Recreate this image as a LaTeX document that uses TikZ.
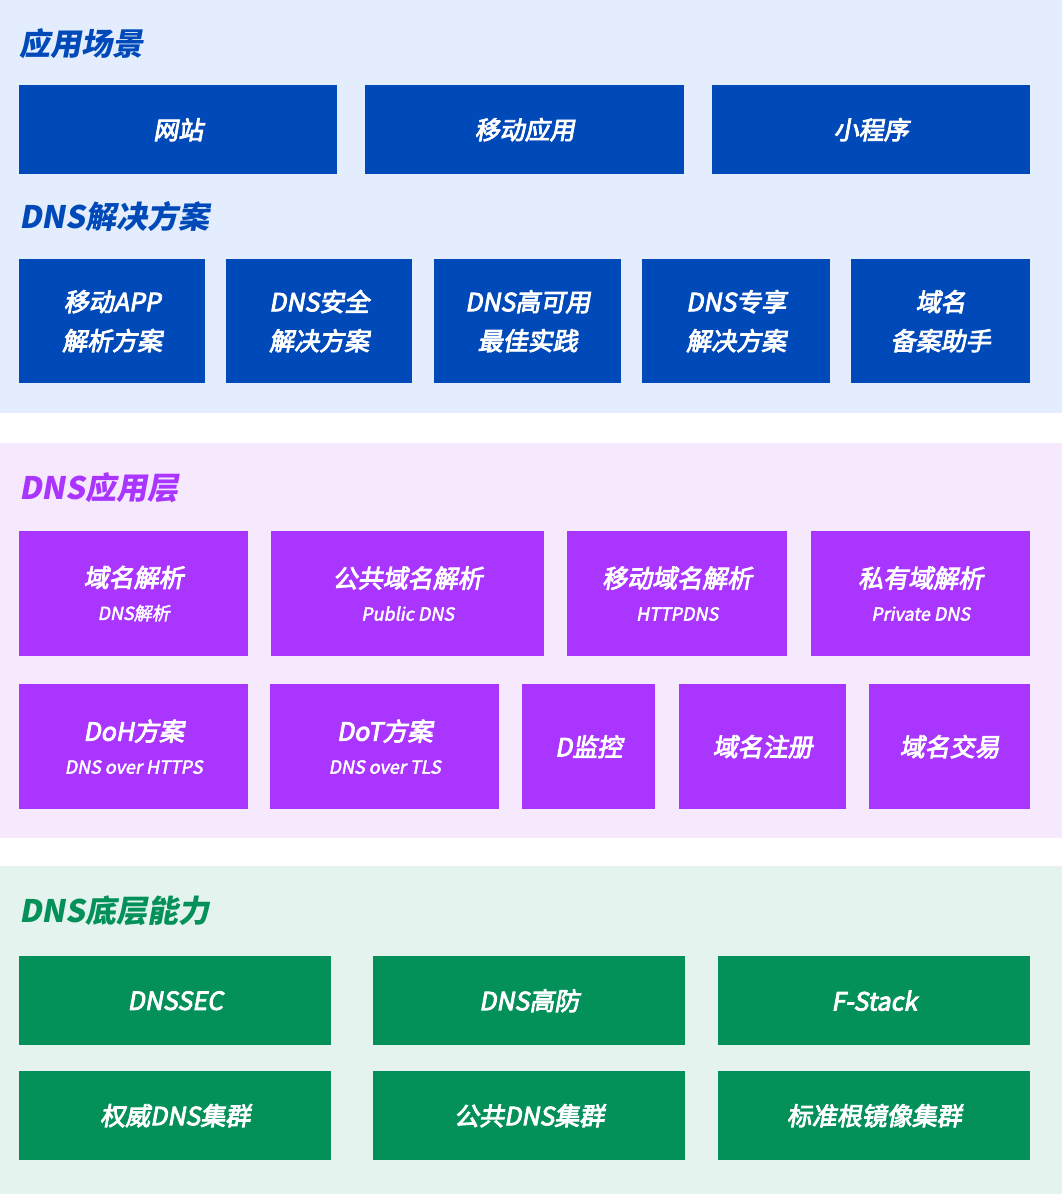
\documentclass[tikz,border=0pt]{standalone}
\usepackage{fontspec}
\setmainfont{Noto Sans CJK SC}[FakeSlant=0.18]
\newfontfamily\medfont{Noto Sans CJK SC}[FakeSlant=0.18, FakeBold=3.5]
\newfontfamily\lightmed{Noto Sans CJK SC}[FakeSlant=0.18, FakeBold=2.5]
\definecolor{bluebox}{HTML}{0049B9}
\definecolor{bluebg}{HTML}{E3EDFD}
\definecolor{purplebox}{HTML}{A935FF}
\definecolor{purplebg}{HTML}{F6E9FD}
\definecolor{greenbox}{HTML}{039059}
\definecolor{greenbg}{HTML}{E4F3EE}
\tikzset{
  cell/.style={anchor=north west, inner sep=0pt, text=white, align=center,
    font=\fontsize{25}{39}\medfont},
  sectitle/.style={anchor=west, inner sep=0pt, font=\fontsize{31}{36}\selectfont\bfseries},
}
\newcommand{\sub}[1]{{\fontsize{18}{22}\lightmed #1}}
\newcommand{\cellbox}[7]{% name, x1, y1, x2, y2, color, text
  \node[cell, fill=#6, minimum width={(#4-#2)*1pt}, minimum height={(#5-#3)*1pt}] (#1) at (#2,#3) {#7};}
\begin{document}
\begin{tikzpicture}[x=1pt,y=-1pt]
\useasboundingbox (0,0) rectangle (1062,1194);
\fill[white] (0,0) rectangle (1062,1194);
% backgrounds
\fill[bluebg] (0,0) rectangle (1062,413);
\fill[purplebg] (0,443) rectangle (1062,838);
\fill[greenbg] (0,866) rectangle (1062,1194);

% Section 1
\node[sectitle, text=bluebox] (t1) at (19,44) {应用场景};
\cellbox{a1}{19}{85}{337}{174}{bluebox}{网站}
\cellbox{a2}{365}{85}{684}{174}{bluebox}{移动应用}
\cellbox{a3}{712}{85}{1030}{174}{bluebox}{小程序}
\node[sectitle, text=bluebox] (t2) at (19,217) {DNS解决方案};
\cellbox{b1}{19}{259}{205}{383}{bluebox}{移动APP\\解析方案}
\cellbox{b2}{226}{259}{412}{383}{bluebox}{DNS安全\\解决方案}
\cellbox{b3}{434}{259}{621}{383}{bluebox}{DNS高可用\\最佳实践}
\cellbox{b4}{642}{259}{830}{383}{bluebox}{DNS专享\\解决方案}
\cellbox{b5}{851}{259}{1030}{383}{bluebox}{域名\\备案助手}

% Section 2
\node[sectitle, text=purplebox] (t3) at (19,488) {DNS应用层};
\cellbox{c1}{19}{531}{248}{656}{purplebox}{域名解析\\[-6pt]\sub{DNS解析}}
\cellbox{c2}{271}{531}{544}{656}{purplebox}{公共域名解析\\[-6pt]\sub{Public DNS}}
\cellbox{c3}{567}{531}{787}{656}{purplebox}{移动域名解析\\[-6pt]\sub{HTTPDNS}}
\cellbox{c4}{811}{531}{1030}{656}{purplebox}{私有域解析\\[-6pt]\sub{Private DNS}}
\cellbox{d1}{19}{684}{248}{809}{purplebox}{DoH方案\\[-6pt]\sub{DNS over HTTPS}}
\cellbox{d2}{270}{684}{499}{809}{purplebox}{DoT方案\\[-6pt]\sub{DNS over TLS}}
\cellbox{d3}{522}{684}{655}{809}{purplebox}{D监控}
\cellbox{d4}{679}{684}{846}{809}{purplebox}{域名注册}
\cellbox{d5}{869}{684}{1030}{809}{purplebox}{域名交易}

% Section 3
\node[sectitle, text=greenbox] (t4) at (19,911) {DNS底层能力};
\cellbox{e1}{19}{956}{331}{1045}{greenbox}{DNSSEC}
\cellbox{e2}{373}{956}{685}{1045}{greenbox}{DNS高防}
\cellbox{e3}{718}{956}{1030}{1045}{greenbox}{F-Stack}
\cellbox{f1}{19}{1071}{331}{1160}{greenbox}{权威DNS集群}
\cellbox{f2}{373}{1071}{685}{1160}{greenbox}{公共DNS集群}
\cellbox{f3}{718}{1071}{1030}{1160}{greenbox}{标准根镜像集群}
\end{tikzpicture}
\end{document}
